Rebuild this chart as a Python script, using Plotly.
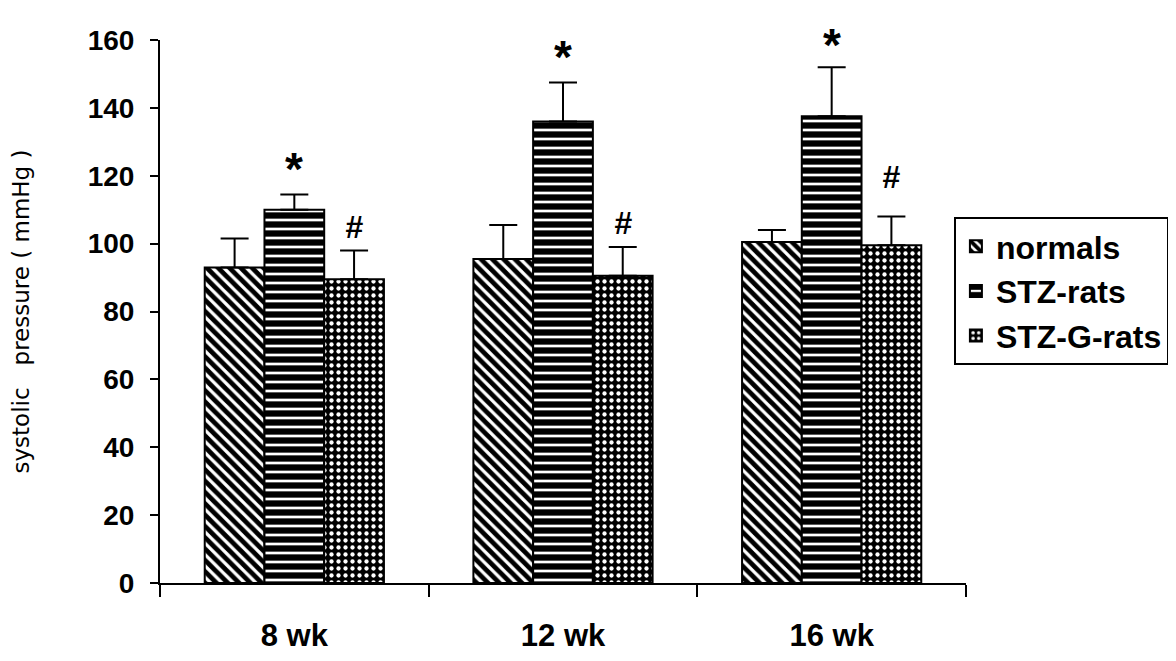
import plotly.graph_objects as go

categories = ["8 wk", "12 wk", "16 wk"]
normals = [93, 95.5, 100.5]
normals_err = [8.5, 10, 3.5]
stz = [110, 136, 137.5]
stz_err = [4.5, 11.5, 14.5]
stzg = [89.5, 90.5, 99.5]
stzg_err = [8.5, 8.5, 8.5]
star_y = [122, 155, 158.5]
hash_y = [105, 106, 119.5]

FONT = "Liberation Sans"
BARGAP = 0.333

fig = go.Figure()

def add_bar(name, vals, errs, shape, fg, bg, size, solidity):
    fig.add_trace(go.Bar(
        name=name, x=categories, y=vals,
        marker=dict(color=bg, line=dict(color="black", width=2),
                    pattern=dict(shape=shape, fgcolor=fg, bgcolor=bg,
                                 size=size, solidity=solidity, fillmode="replace")),
        error_y=dict(type="data", array=errs, arrayminus=[0] * len(errs),
                     symmetric=False, color="black", thickness=2, width=14),
    ))

add_bar("normals", normals, normals_err, "\\", "black", "white", 8, 0.6)
add_bar("STZ-rats", stz, stz_err, "-", "black", "white", 9, 0.7)
add_bar("STZ-G-rats", stzg, stzg_err, ".", "white", "black", 7, 0.3)

bw = (1 - BARGAP) / 3
for i in range(len(categories)):
    fig.add_annotation(x=i, y=star_y[i], xref="x", yref="y", text="<b>*</b>",
                       showarrow=False, font=dict(family=FONT, size=46, color="black"))
    fig.add_annotation(x=i + bw, y=hash_y[i], xref="x", yref="y", text="<b><i>#</i></b>",
                       showarrow=False, font=dict(family=FONT, size=32, color="black"))

# small extension of the x axis to the left of the y axis
fig.add_shape(type="line", xref="paper", yref="y", x0=-0.009, x1=0, y0=0, y1=0,
              line=dict(color="black", width=2))

fig.update_layout(
    width=1250, height=661,
    paper_bgcolor="white", plot_bgcolor="white",
    margin=dict(l=149, r=292, t=32, b=86),
    barmode="group", bargap=BARGAP, bargroupgap=0,
    font=dict(family=FONT, color="black"),
    showlegend=True,
    legend=dict(x=0.985, y=0.674, xanchor="left", yanchor="top",
                bordercolor="black", borderwidth=2, bgcolor="white",
                font=dict(family=FONT, size=32, color="black", weight="bold"),
                tracegroupgap=0),
    xaxis=dict(type="category", showline=True, linecolor="black", linewidth=2,
               ticks="outside", tickson="boundaries", ticklen=12, tickwidth=2,
               tickcolor="black", showgrid=False, ticklabelstandoff=24,
               tickfont=dict(family=FONT, size=31, weight="bold")),
    yaxis=dict(range=[0, 160], dtick=20, showline=True, linecolor="black",
               linewidth=2, ticks="outside", ticklen=8, tickwidth=2,
               tickcolor="black", showgrid=False, zeroline=False,
               ticklabelstandoff=10,
               tickfont=dict(family=FONT, size=28, weight="bold"),
               title=dict(text="systolic&nbsp;&nbsp;&nbsp;pressure ( mmHg )",
                          font=dict(family="DejaVu Sans", size=23), standoff=52)),
)

fig.write_html("out.html")
